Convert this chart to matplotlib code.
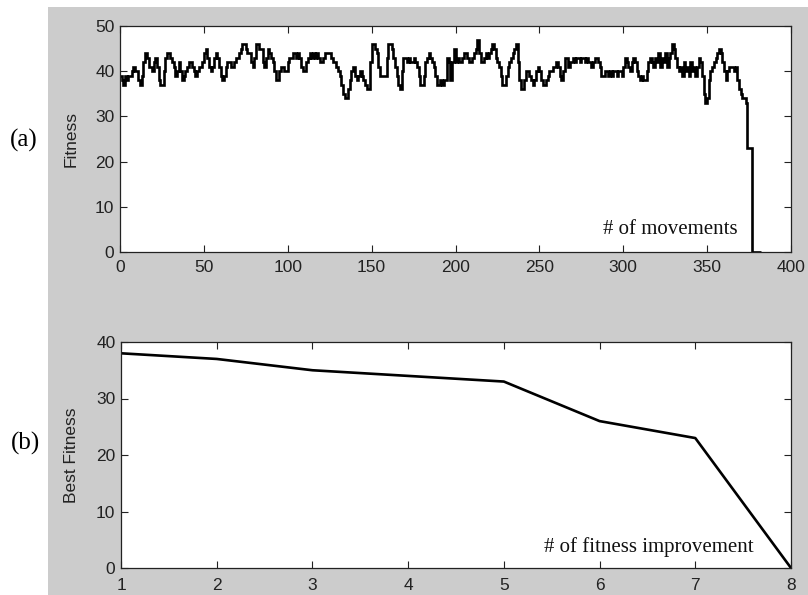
"""
Fitness trace over movements (a) and best fitness per improvement (b).
"""

import matplotlib
matplotlib.use("Agg")
import matplotlib.pyplot as plt
from matplotlib.patches import Rectangle
import numpy as np

# ---------------------------------------------------------------------------
# Data
# ---------------------------------------------------------------------------

fitness_per_move = [
    39, 38, 37, 39, 38, 39, 39, 40, 41, 40,
    40, 38, 37, 39, 42, 44, 43, 41, 41, 40,
    42, 43, 41, 38, 37, 37, 40, 43, 44, 44,
    43, 42, 41, 39, 40, 42, 40, 38, 39, 40,
    41, 42, 42, 41, 40, 39, 40, 41, 41, 42,
    44, 45, 43, 41, 40, 41, 43, 44, 43, 41,
    39, 38, 39, 41, 42, 42, 41, 41, 42, 43,
    43, 44, 45, 46, 46, 45, 44, 44, 42, 41,
    43, 46, 46, 45, 45, 42, 41, 43, 45, 44,
    43, 42, 40, 38, 38, 40, 41, 41, 40, 40,
    42, 43, 43, 44, 44, 43, 44, 43, 41, 40,
    40, 42, 43, 44, 43, 44, 43, 44, 43, 42,
    42, 43, 44, 44, 44, 44, 43, 42, 42, 41,
    40, 39, 37, 35, 34, 34, 36, 38, 40, 41,
    39, 38, 39, 40, 39, 38, 37, 36, 36, 42,
    46, 46, 45, 44, 41, 39, 39, 39, 39, 43,
    46, 46, 45, 43, 41, 39, 37, 36, 40, 43,
    43, 42, 43, 42, 42, 43, 42, 41, 39, 37,
    37, 39, 42, 43, 44, 43, 42, 41, 39, 37,
    37, 38, 37, 38, 38, 43, 42, 38, 42, 45,
    42, 43, 42, 42, 43, 44, 44, 43, 42, 42,
    43, 44, 45, 47, 44, 42, 42, 43, 44, 43,
    44, 45, 46, 45, 43, 42, 41, 39, 37, 37,
    39, 41, 42, 43, 44, 45, 46, 42, 38, 36,
    36, 38, 40, 40, 39, 38, 37, 38, 40, 41,
    40, 38, 37, 37, 38, 39, 40, 40, 41, 41,
    42, 41, 39, 38, 40, 43, 43, 41, 42, 42,
    43, 42, 43, 43, 42, 43, 43, 42, 43, 42,
    42, 41, 42, 43, 43, 42, 41, 39, 39, 40,
    40, 39, 40, 39, 40, 40, 39, 40, 40, 39,
    41, 43, 42, 41, 40, 42, 43, 42, 40, 39,
    38, 39, 38, 38, 40, 42, 43, 42, 41, 43,
    42, 44, 41, 43, 42, 44, 41, 43, 44, 46,
    45, 43, 41, 40, 41, 39, 42, 40, 41, 39,
    42, 40, 41, 39, 41, 43, 42, 39, 35, 33,
    34, 38, 40, 41, 42, 43, 44, 45, 44, 42,
    40, 38, 40, 41, 41, 41, 40, 41, 38, 36,
    35, 34, 34, 33, 23, 23, 23, 0, 0, 0,
    0, 0,
]

improvement_idx = [1, 2, 3, 4, 5, 6, 7, 8]
best_fitness = [38, 37, 35, 34, 33, 26, 23, 0]

top_xticks = [0, 50, 100, 150, 200, 250, 300, 350, 400]
top_yticks = [0, 10, 20, 30, 40, 50]
bot_yticks = [0, 10, 20, 30, 40]

# ---------------------------------------------------------------------------
# Figure
# ---------------------------------------------------------------------------

TICK_FONT = ["Liberation Sans Narrow", "Liberation Sans", "DejaVu Sans"]
SERIF = ["Liberation Serif", "DejaVu Serif"]
W, H = 808, 595

fig = plt.figure(figsize=(W / 100, H / 100), dpi=100, facecolor="white")
# MATLAB-style grey figure area, leaving a white strip on the left
fig.patches.append(Rectangle((48 / W, 0), 1 - 48 / W, 1 - 7 / H,
                             transform=fig.transFigure, facecolor="#cccccc",
                             edgecolor="none", zorder=-10))


def _style(ax, xpad):
    ax.set_facecolor("white")
    ax.tick_params(direction="in", top=True, right=True, length=5,
                   width=0.8, colors="#222222", labelsize=12.5)
    ax.tick_params(axis="x", pad=xpad)
    ax.tick_params(axis="y", pad=4)
    for lab in ax.get_xticklabels() + ax.get_yticklabels():
        lab.set_family(TICK_FONT)
    for sp in ax.spines.values():
        sp.set_color("#222222")
        sp.set_linewidth(0.9)


# (a) fitness per movement
ax1 = fig.add_axes([120 / W, 1 - 252 / H, 671 / W, 226 / H])
edges = np.arange(len(fitness_per_move) + 1)
ax1.stairs(fitness_per_move, edges, color="black", linewidth=1.9,
           baseline=None)
ax1.set_xlim(0, 400)
ax1.set_ylim(0, 50)
ax1.set_xticks(top_xticks)
ax1.set_yticks(top_yticks)
_style(ax1, 6)
ax1.set_ylabel("Fitness", family=TICK_FONT, fontsize=12.5, color="#222222")
ax1.yaxis.set_label_coords(-0.062, 0.5)
ax1.text(368, 5.0, "# of movements", family=SERIF, fontsize=15,
         ha="right", va="center", color="#111111")

# (b) best fitness per improvement
ax2 = fig.add_axes([121 / W, 1 - 568 / H, 670 / W, 226 / H])
ax2.plot(improvement_idx, best_fitness, color="black", linewidth=1.9)
ax2.set_xlim(1, 8)
ax2.set_ylim(0, 40)
ax2.set_xticks(improvement_idx)
ax2.set_yticks(bot_yticks)
_style(ax2, 7)
ax2.set_ylabel("Best Fitness", family=TICK_FONT, fontsize=12.5,
               color="#222222")
ax2.yaxis.set_label_coords(-0.062, 0.5)
ax2.text(7.61, 3.7, "# of fitness improvement", family=SERIF, fontsize=15,
         ha="right", va="center", color="#111111")

# panel letters in the white strip
fig.text(24 / W, 1 - 140 / H, "(a)", family=SERIF, fontsize=18,
         ha="center", va="center")
fig.text(25 / W, 1 - 443 / H, "(b)", family=SERIF, fontsize=18,
         ha="center", va="center")

fig.savefig("out.png", dpi=100, facecolor=fig.get_facecolor())
